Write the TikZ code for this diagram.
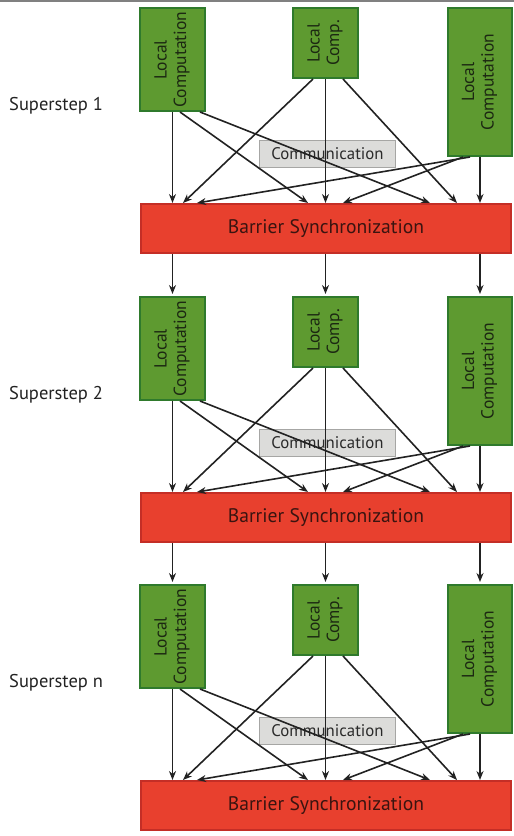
\documentclass[tikz,border=0pt]{standalone}
\usepackage{fontspec}
\setmainfont{PT Sans}
\usetikzlibrary{arrows.meta,calc}
\definecolor{gfill}{HTML}{5E9A30}
\definecolor{gdraw}{HTML}{2F7A2C}
\definecolor{gtext}{HTML}{1C2812}
\definecolor{rfill}{HTML}{E8402E}
\definecolor{rdraw}{HTML}{C42E26}
\definecolor{rtext}{HTML}{3A1410}
\definecolor{cfill}{HTML}{DCDCDA}
\definecolor{cdraw}{HTML}{A6A6A4}
\definecolor{ctext}{HTML}{2A2A2A}
\definecolor{arrcol}{HTML}{222222}
\definecolor{ltext}{HTML}{222222}
\definecolor{topcol}{HTML}{808080}
\begin{document}
\begin{tikzpicture}[x=1pt,y=-1pt,
  comp/.style={draw=gdraw,fill=gfill,line width=2.4pt,inner sep=0pt,text=gtext,font=\fontsize{17.5}{19.5}\selectfont},
  barrier/.style={draw=rdraw,fill=rfill,line width=1.6pt,minimum width=370.4pt,minimum height=49.4pt,inner sep=0pt,text=rtext,font=\fontsize{19.6}{22}\selectfont},
  commbox/.style={draw=cdraw,fill=cfill,line width=1.2pt,minimum width=135.8pt,minimum height=26.8pt,inner sep=0pt,text=ctext,font=\fontsize{16.8}{19}\selectfont},
  arr/.style={draw=arrcol,line width=1.6pt,-{Stealth[length=9pt,width=7pt]}},
  steplabel/.style={anchor=west,text=ltext,inner sep=0pt,font=\fontsize{18.5}{21}\selectfont}
]
\useasboundingbox (0,0) rectangle (514,836);
\draw[topcol,line width=1.6pt] (0,0.8) -- (514,0.8);
\foreach \i/\o/\lab in {1/0/1,2/289/2,3/577/n}{
  \node[steplabel] (S\i) at (9,{106+\o}) {Superstep \lab};
  \node[comp,minimum width=64.6pt,minimum height=102.6pt] (L\i) at (172.5,{59.5+\o})
    {\rotatebox{90}{\begin{tabular}{@{}c@{}}Local\\Computation\end{tabular}}};
  \node[comp,minimum width=64.6pt,minimum height=69.6pt] (M\i) at (325.5,{43+\o})
    {\rotatebox{90}{\begin{tabular}{@{}c@{}}Local\\Comp.\end{tabular}}};
  \node[comp,minimum width=63.6pt,minimum height=147.6pt] (R\i) at (480,{82+\o})
    {\rotatebox{90}{\begin{tabular}{@{}c@{}}Local\\Computation\end{tabular}}};
  \node[commbox] (C\i) at (327.5,{154+\o}) {Communication};
  \node[barrier] (B\i) at (326,{228.5+\o}) {Barrier Synchronization};
  \draw[arr] (L\i.south) -- (L\i.south |- B\i.north);
  \draw[arr] ([xshift=7.5pt]L\i.south) -- ([xshift=-18pt]B\i.north);
  \draw[arr] ([xshift=27.5pt]L\i.south) -- ([xshift=104pt]B\i.north);
  \draw[arr] ([xshift=-12.5pt]M\i.south) -- ([xshift=-143pt]B\i.north);
  \draw[arr] (M\i.south) -- (M\i.south |- B\i.north);
  \draw[arr] ([xshift=17.5pt]M\i.south) -- ([xshift=131pt]B\i.north);
  \draw[arr] ([xshift=-10pt]R\i.south) -- ([xshift=-129pt]B\i.north);
  \draw[arr] ([xshift=-17pt]R\i.south) -- ([xshift=17pt]B\i.north);
  \draw[arr] (R\i.south) -- (R\i.south |- B\i.north);
}
\foreach \p/\n in {1/2,2/3}{
  \draw[arr,shorten >=2pt] (L\n.north |- B\p.south) -- (L\n.north);
  \draw[arr,shorten >=2pt] (M\n.north |- B\p.south) -- (M\n.north);
  \draw[arr,shorten >=2pt] (R\n.north |- B\p.south) -- (R\n.north);
}
\end{tikzpicture}
\end{document}
